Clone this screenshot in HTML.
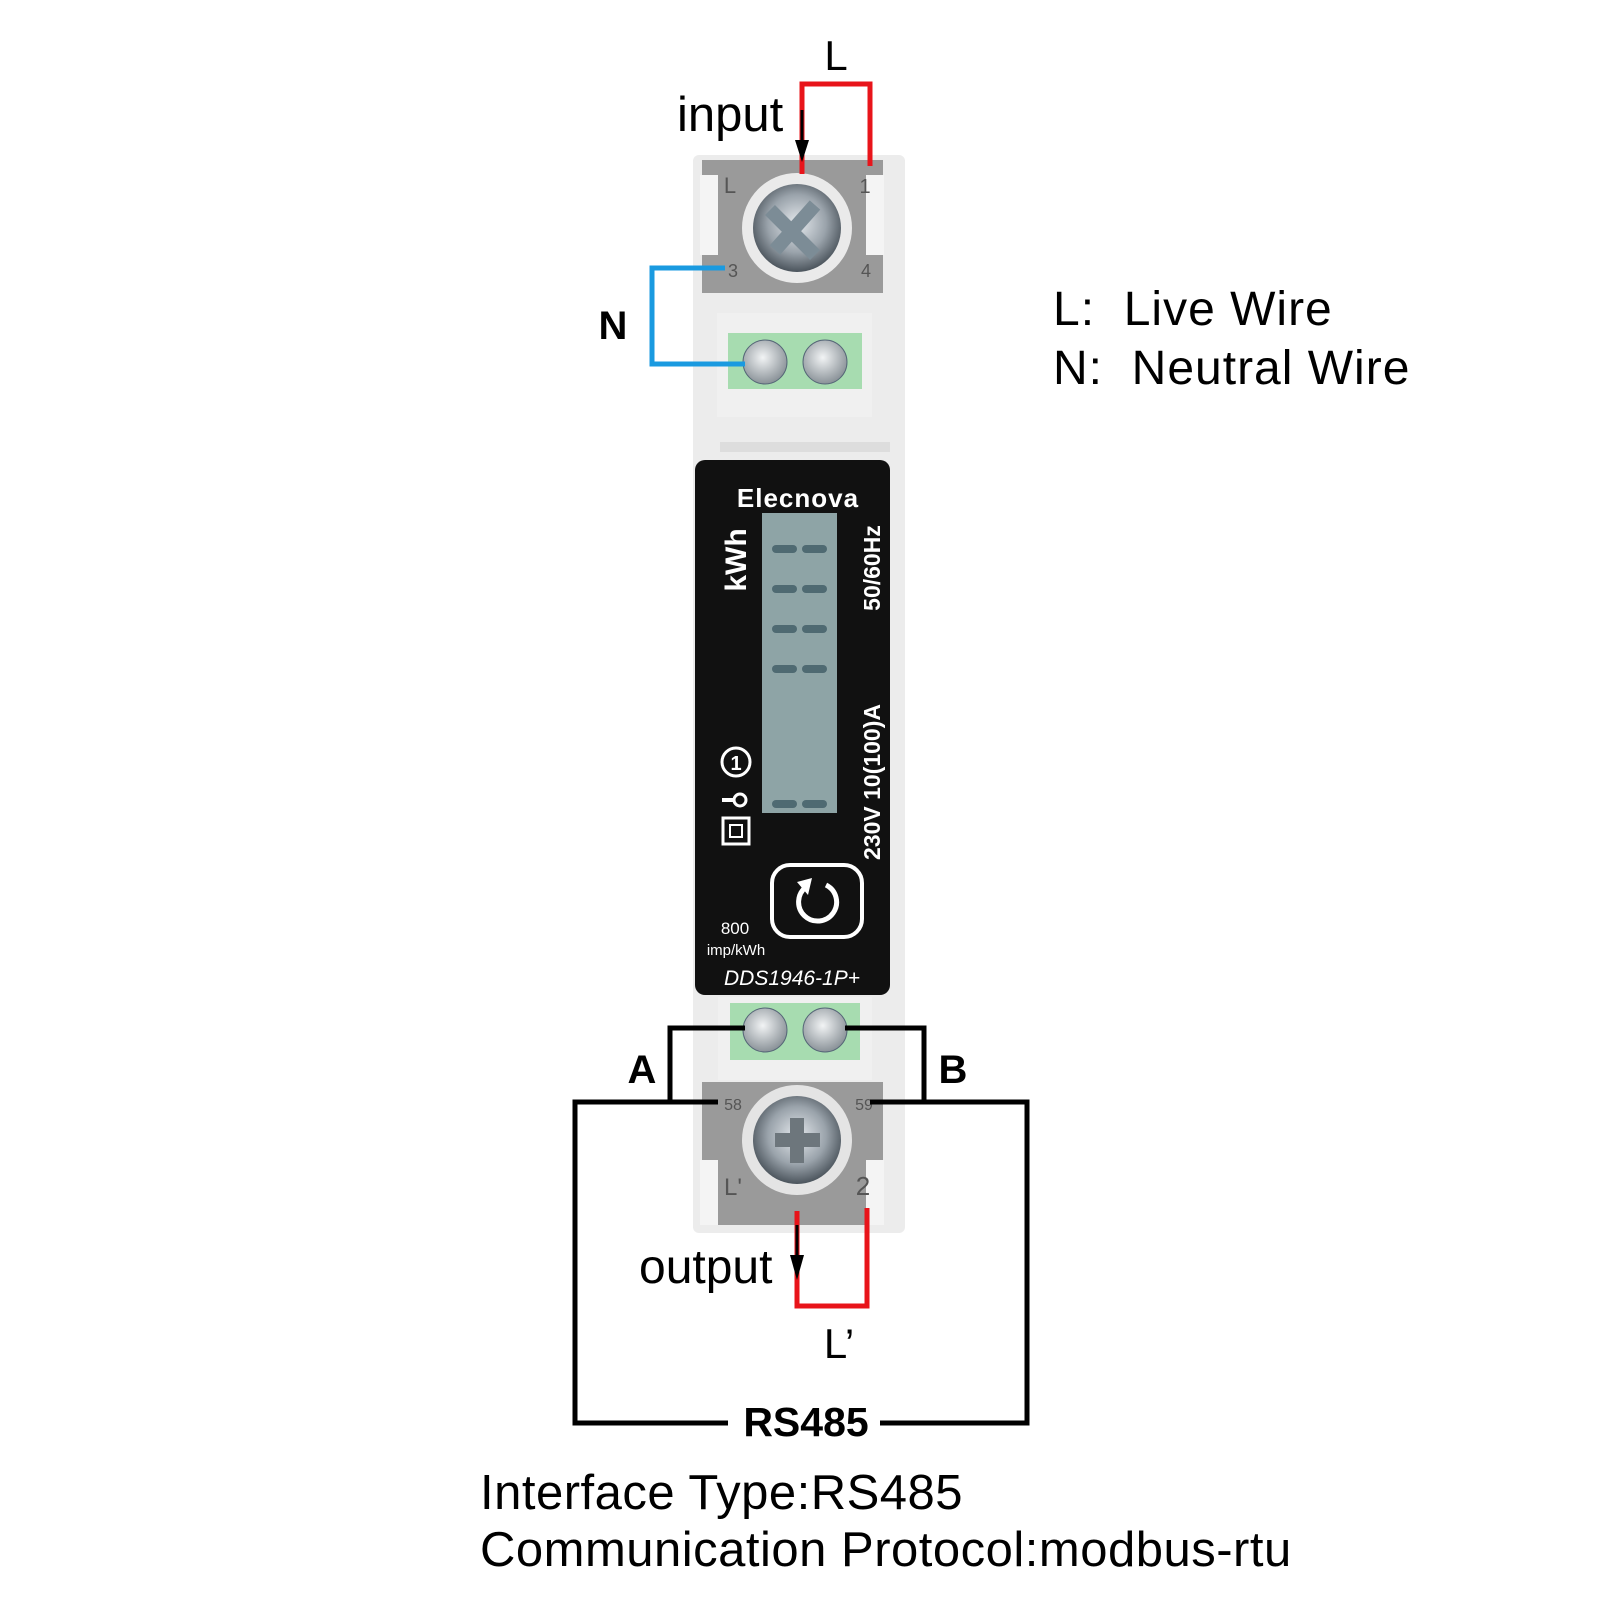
<!DOCTYPE html>
<html><head><meta charset="utf-8"><style>
html,body{margin:0;padding:0;background:#fff}
svg{display:block}
text{font-family:"Liberation Sans",sans-serif}
</style></head><body>
<svg width="1600" height="1600" viewBox="0 0 1600 1600" xmlns="http://www.w3.org/2000/svg">
<defs>
<radialGradient id="scr" cx="50%" cy="45%" r="55%"><stop offset="0" stop-color="#e6eaee"/><stop offset="0.6" stop-color="#9aa3ab"/><stop offset="1" stop-color="#4b545c"/></radialGradient>
<radialGradient id="sm" cx="45%" cy="40%" r="60%"><stop offset="0" stop-color="#f2f4f5"/><stop offset="1" stop-color="#8a9298"/></radialGradient>
</defs>
<rect x="693" y="155" width="212" height="1078" rx="6" fill="#ececec"/>
<rect x="702" y="160" width="181" height="133" fill="#9a9a9a"/>
<rect x="702" y="1082" width="181" height="143" fill="#9a9a9a"/>
<rect x="700" y="175" width="18" height="80" fill="#f4f4f4"/>
<rect x="866" y="175" width="18" height="80" fill="#f4f4f4"/>
<rect x="700" y="1160" width="18" height="65" fill="#f4f4f4"/>
<rect x="866" y="1160" width="18" height="65" fill="#f4f4f4"/>
<text x="730" y="193" font-size="22" fill="#555" text-anchor="middle">L</text>
<text x="733" y="277" font-size="18" fill="#555" text-anchor="middle">3</text>
<text x="865" y="193" font-size="20" fill="#555" text-anchor="middle">1</text>
<text x="866" y="277" font-size="18" fill="#555" text-anchor="middle">4</text>
<text x="733" y="1110" font-size="16" fill="#555" text-anchor="middle">58</text>
<text x="864" y="1110" font-size="16" fill="#555" text-anchor="middle">59</text>
<text x="733" y="1195" font-size="24" fill="#555" text-anchor="middle">L'</text>
<text x="863" y="1195" font-size="26" fill="#555" text-anchor="middle">2</text>
<circle cx="797" cy="228" r="55" fill="#eaeaea"/>
<circle cx="797" cy="228" r="44" fill="url(#scr)"/>
<path d="M770 210 L815 255 M815 205 L775 250" stroke="#7c8c96" stroke-width="14"/>
<rect x="717" y="313" width="155" height="104" fill="#f0f0f0"/>
<rect x="728" y="333" width="134" height="56" fill="#a7dcb0"/>
<circle cx="765" cy="362" r="22" fill="url(#sm)" stroke="#567" stroke-width="1"/>
<circle cx="825" cy="362" r="22" fill="url(#sm)" stroke="#567" stroke-width="1"/>
<rect x="720" y="442" width="170" height="10" fill="#ddd"/>
<rect x="695" y="460" width="195" height="535" rx="10" fill="#111"/>
<rect x="762" y="513" width="75" height="300" fill="#8ea4a6"/>
<g fill="#4f6a72">
<rect x="772" y="545" width="25" height="8" rx="4"/><rect x="802" y="545" width="25" height="8" rx="4"/>
<rect x="772" y="585" width="25" height="8" rx="4"/><rect x="802" y="585" width="25" height="8" rx="4"/>
<rect x="772" y="625" width="25" height="8" rx="4"/><rect x="802" y="625" width="25" height="8" rx="4"/>
<rect x="772" y="665" width="25" height="8" rx="4"/><rect x="802" y="665" width="25" height="8" rx="4"/>
<rect x="772" y="800" width="25" height="8" rx="4"/><rect x="802" y="800" width="25" height="8" rx="4"/>
</g>
<text x="798" y="507" font-size="26" font-weight="bold" fill="#fff" text-anchor="middle" letter-spacing="1">Elecnova</text>
<text transform="translate(746,560) rotate(-90)" font-size="30" font-weight="bold" fill="#fff" text-anchor="middle">kWh</text>
<text transform="translate(880,568) rotate(-90)" font-size="23" font-weight="bold" fill="#fff" text-anchor="middle">50/60Hz</text>
<text transform="translate(880,782) rotate(-90)" font-size="23" font-weight="bold" fill="#fff" text-anchor="middle">230V 10(100)A</text>
<circle cx="736" cy="762" r="14" fill="none" stroke="#fff" stroke-width="3"/>
<text x="736" y="770" font-size="20" font-weight="bold" fill="#fff" text-anchor="middle">1</text>
<circle cx="740" cy="800" r="6" fill="none" stroke="#fff" stroke-width="3"/><line x1="722" y1="800" x2="734" y2="800" stroke="#fff" stroke-width="4"/>
<rect x="723" y="818" width="26" height="26" fill="none" stroke="#fff" stroke-width="3"/><rect x="730" y="825" width="12" height="12" fill="none" stroke="#fff" stroke-width="2"/>
<rect x="772" y="865" width="90" height="72" rx="18" fill="none" stroke="#fff" stroke-width="4"/>
<path d="M806 887 A 19 19 0 1 0 826 885" fill="none" stroke="#fff" stroke-width="5"/>
<path d="M797 882 L812 878 L808 895 Z" fill="#fff"/>
<text x="735" y="934" font-size="17" fill="#fff" text-anchor="middle">800</text>
<text x="736" y="955" font-size="15" fill="#fff" text-anchor="middle">imp/kWh</text>
<text x="792" y="985" font-size="21" font-style="italic" fill="#fff" text-anchor="middle">DDS1946-1P+</text>
<rect x="718" y="997" width="154" height="83" fill="#f0f0f0"/>
<rect x="730" y="1003" width="130" height="57" fill="#a7dcb0"/>
<circle cx="765" cy="1030" r="22" fill="url(#sm)" stroke="#567" stroke-width="1"/>
<circle cx="825" cy="1030" r="22" fill="url(#sm)" stroke="#567" stroke-width="1"/>
<circle cx="797" cy="1140" r="55" fill="#e4e4e4"/>
<circle cx="797" cy="1140" r="44" fill="url(#scr)"/>
<path d="M775 1140 L820 1140 M797 1118 L797 1163" stroke="#6d767c" stroke-width="14"/>
<polyline points="802,174 802,84 870,84 870,166" fill="none" stroke="#e8141a" stroke-width="5"/>
<line x1="802" y1="110" x2="802" y2="150" stroke="#000" stroke-width="3"/>
<path d="M795 140 L809 140 L802 162 Z" fill="#000"/>
<polyline points="725,268 652,268 652,364 745,364" fill="none" stroke="#1a9ae0" stroke-width="5"/>
<polyline points="745,1028 670,1028 670,1102" fill="none" stroke="#000" stroke-width="5"/>
<polyline points="718,1102 575,1102 575,1423 728,1423" fill="none" stroke="#000" stroke-width="5"/>
<polyline points="845,1028 924,1028 924,1102" fill="none" stroke="#000" stroke-width="5"/>
<polyline points="870,1102 1027,1102 1027,1423 880,1423" fill="none" stroke="#000" stroke-width="5"/>
<polyline points="797,1211 797,1306 867,1306 867,1208" fill="none" stroke="#e8141a" stroke-width="5"/>
<line x1="797" y1="1225" x2="797" y2="1262" stroke="#000" stroke-width="3"/>
<path d="M790 1255 L804 1255 L797 1280 Z" fill="#000"/>
<text x="836" y="70" font-size="42" fill="#000" text-anchor="middle">L</text>
<text x="677" y="131" font-size="49" fill="#000">input</text>
<text x="613" y="339" font-size="40" font-weight="bold" fill="#000" text-anchor="middle">N</text>
<text x="642" y="1083" font-size="40" font-weight="bold" fill="#000" text-anchor="middle">A</text>
<text x="953" y="1083" font-size="40" font-weight="bold" fill="#000" text-anchor="middle">B</text>
<text x="639" y="1283" font-size="48" fill="#000">output</text>
<text x="839" y="1358" font-size="42" fill="#000" text-anchor="middle">L’</text>
<text x="806" y="1436" font-size="41" font-weight="bold" fill="#000" text-anchor="middle">RS485</text>
<text x="1053" y="325" font-size="48" fill="#000" letter-spacing="1" xml:space="preserve">L:  Live Wire</text>
<text x="1053" y="384" font-size="48" fill="#000" letter-spacing="1" xml:space="preserve">N:  Neutral Wire</text>
<text x="480" y="1509" font-size="49" fill="#000" letter-spacing="0.5">Interface Type:RS485</text>
<text x="480" y="1566" font-size="49" fill="#000" letter-spacing="0.5">Communication Protocol:modbus-rtu</text>
</svg>
</body></html>
